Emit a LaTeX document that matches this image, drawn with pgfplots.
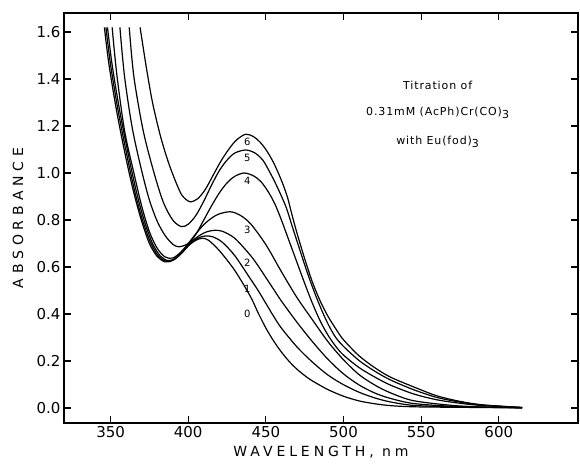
\documentclass[border=0pt]{standalone}
\usepackage{fontspec}
\setmainfont{DejaVu Sans}
\usepackage{pgfplots}
\pgfplotsset{compat=1.18}

\begin{document}
\begin{tikzpicture}
\begin{axis}[
  scale only axis,
  width=514pt, height=410pt,
  xmin=320, xmax=651,
  ymin=-0.064, ymax=1.681,
  xtick={350,400,...,600},
  ytick={0,0.2,...,1.6},
  yticklabel style={/pgf/number format/.cd, fixed, zerofill, precision=1},
  /pgf/number format/assume math mode=true,
  tick label style={font=\fontsize{15}{15}\selectfont},
  tick align=inside,
  major tick length=7pt,
  axis line style={line width=1.4pt},
  tick style={line width=1.2pt, black},
  every axis y label/.style={at={(rel axis cs:0,0.5)}, xshift=-46pt, rotate=90, anchor=center},
  every axis x label/.style={at={(rel axis cs:0.5,0)}, yshift=-29pt, anchor=center},
  ylabel={\fontsize{14}{14}\selectfont\addfontfeature{LetterSpace=35}ABSORBANCE},
  xlabel={\fontsize{14}{14}\selectfont\addfontfeature{LetterSpace=28}WAVELENGTH, nm},
  cycle list={{black, solid, mark=none}},
  every axis plot post/.append style={line width=1.2pt, smooth, tension=0.5},
  clip=false,
]
% curve 0
\addplot coordinates {
 (346,1.62) (349,1.46) (354,1.26) (360,1.06) (365,0.915) (370,0.795) (375,0.70)
 (380,0.645) (385,0.622) (390,0.628) (395,0.655) (400,0.69) (405,0.714) (409,0.722)
 (413,0.714) (420,0.67) (430,0.585) (440,0.475) (445,0.405) (450,0.34) (455,0.285)
 (460,0.238) (465,0.198) (470,0.165) (475,0.138) (480,0.115) (490,0.078) (500,0.05)
 (510,0.03) (520,0.018) (530,0.01) (545,0.005) (570,0.003) (590,0.002) (615,0.001)
};
% curve 1
\addplot coordinates {
 (347,1.62) (350,1.46) (355,1.26) (361,1.06) (366,0.91) (371,0.79) (376,0.70)
 (381,0.645) (386,0.624) (391,0.632) (396,0.66) (401,0.697) (406,0.722) (411,0.732)
 (416,0.728) (422,0.705) (430,0.648) (440,0.55) (445,0.50) (450,0.445) (455,0.39)
 (460,0.34) (470,0.26) (480,0.195) (490,0.14) (500,0.099) (510,0.067) (520,0.043)
 (530,0.026) (545,0.011) (570,0.005) (590,0.003) (615,0.001)
};
% curve 2
\addplot coordinates {
 (348,1.62) (351,1.46) (356,1.26) (362,1.06) (367,0.91) (372,0.79) (377,0.70)
 (382,0.647) (387,0.627) (392,0.638) (397,0.67) (402,0.707) (407,0.733) (412,0.75)
 (417,0.756) (422,0.752) (430,0.722) (440,0.65) (445,0.605) (450,0.555) (455,0.505)
 (460,0.455) (470,0.365) (480,0.282) (490,0.207) (500,0.145) (510,0.098) (520,0.064)
 (530,0.041) (545,0.019) (570,0.007) (590,0.003) (615,0.001)
};
% curve 3
\addplot coordinates {
 (351,1.62) (354,1.42) (359,1.18) (365,1.0) (370,0.86) (375,0.75) (380,0.68)
 (385,0.643) (390,0.638) (395,0.662) (400,0.70) (405,0.742) (410,0.78) (415,0.808)
 (420,0.826) (427,0.835) (433,0.822) (440,0.785) (450,0.695) (460,0.58) (470,0.47)
 (480,0.375) (490,0.282) (500,0.205) (510,0.142) (520,0.098) (530,0.065) (545,0.031)
 (570,0.011) (590,0.004) (615,0.001)
};
% curve 4
\addplot coordinates {
 (356,1.62) (359,1.41) (364,1.19) (370,1.01) (375,0.885) (380,0.795) (385,0.735)
 (390,0.697) (394,0.686) (400,0.70) (405,0.74) (410,0.80) (415,0.86) (420,0.915)
 (425,0.958) (430,0.986) (436,1.0) (442,0.988) (447,0.962) (452,0.915) (456,0.865)
 (460,0.80) (465,0.71) (470,0.62) (475,0.53) (480,0.445) (485,0.37) (490,0.31)
 (495,0.262) (500,0.225) (510,0.172) (520,0.132) (530,0.098) (545,0.06) (560,0.035)
 (575,0.02) (590,0.01) (615,0.002)
};
% curve 5
\addplot coordinates {
 (362,1.62) (365,1.41) (371,1.18) (378,1.0) (384,0.875) (390,0.80) (395.5,0.772)
 (400,0.782) (405,0.82) (410,0.88) (415,0.948) (420,1.01) (425,1.055) (430,1.085)
 (437,1.098) (443,1.085) (448,1.055) (452,1.01) (457,0.945) (463,0.855) (467,0.772)
 (472,0.67) (477,0.57) (482,0.48) (487,0.40) (491,0.345) (495,0.30) (500,0.262)
 (510,0.202) (520,0.157) (530,0.12) (545,0.078) (560,0.045) (575,0.025) (590,0.012)
 (615,0.002)
};
% curve 6
\addplot coordinates {
 (369,1.62) (373,1.45) (377,1.30) (382,1.16) (387,1.05) (392,0.962) (396,0.905)
 (401,0.878) (406,0.89) (411,0.93) (416,0.99) (421,1.05) (426,1.10) (431,1.14)
 (437,1.165) (442,1.155) (446,1.133) (450,1.10) (454.5,1.05) (458,1.0) (461,0.952)
 (464,0.895) (466.5,0.83) (470,0.745) (475,0.635) (480,0.535) (485,0.455) (490,0.39)
 (495.5,0.332) (500,0.29) (510,0.222) (520,0.172) (530,0.132) (545,0.09) (560,0.052)
 (575,0.028) (590,0.013) (615,0.002)
};
\begin{scope}[every node/.style={font=\fontsize{10}{10}\selectfont, inner sep=0pt}]
\node at (axis cs:438,1.132) {6};
\node at (axis cs:438,1.064) {5};
\node at (axis cs:438,0.966) {4};
\node at (axis cs:438,0.757) {3};
\node at (axis cs:438,0.617) {2};
\node at (axis cs:438,0.506) {1};
\node at (axis cs:438,0.400) {0};
\end{scope}
\begin{scope}[every node/.style={font=\fontsize{11}{11}\selectfont\addfontfeature{LetterSpace=8}, inner sep=0pt}]
\node at (axis cs:560.6,1.374) {Titration of};
\node at (axis cs:560.6,1.255) {0.31mM (AcPh)Cr(CO)\raisebox{-0.6ex}{3}};
\node at (axis cs:560.6,1.132) {with Eu(fod)\raisebox{-0.6ex}{3}};
\end{scope}
\end{axis}
\path (-64pt,-40pt) rectangle (516pt,423pt);
\end{tikzpicture}
\end{document}
